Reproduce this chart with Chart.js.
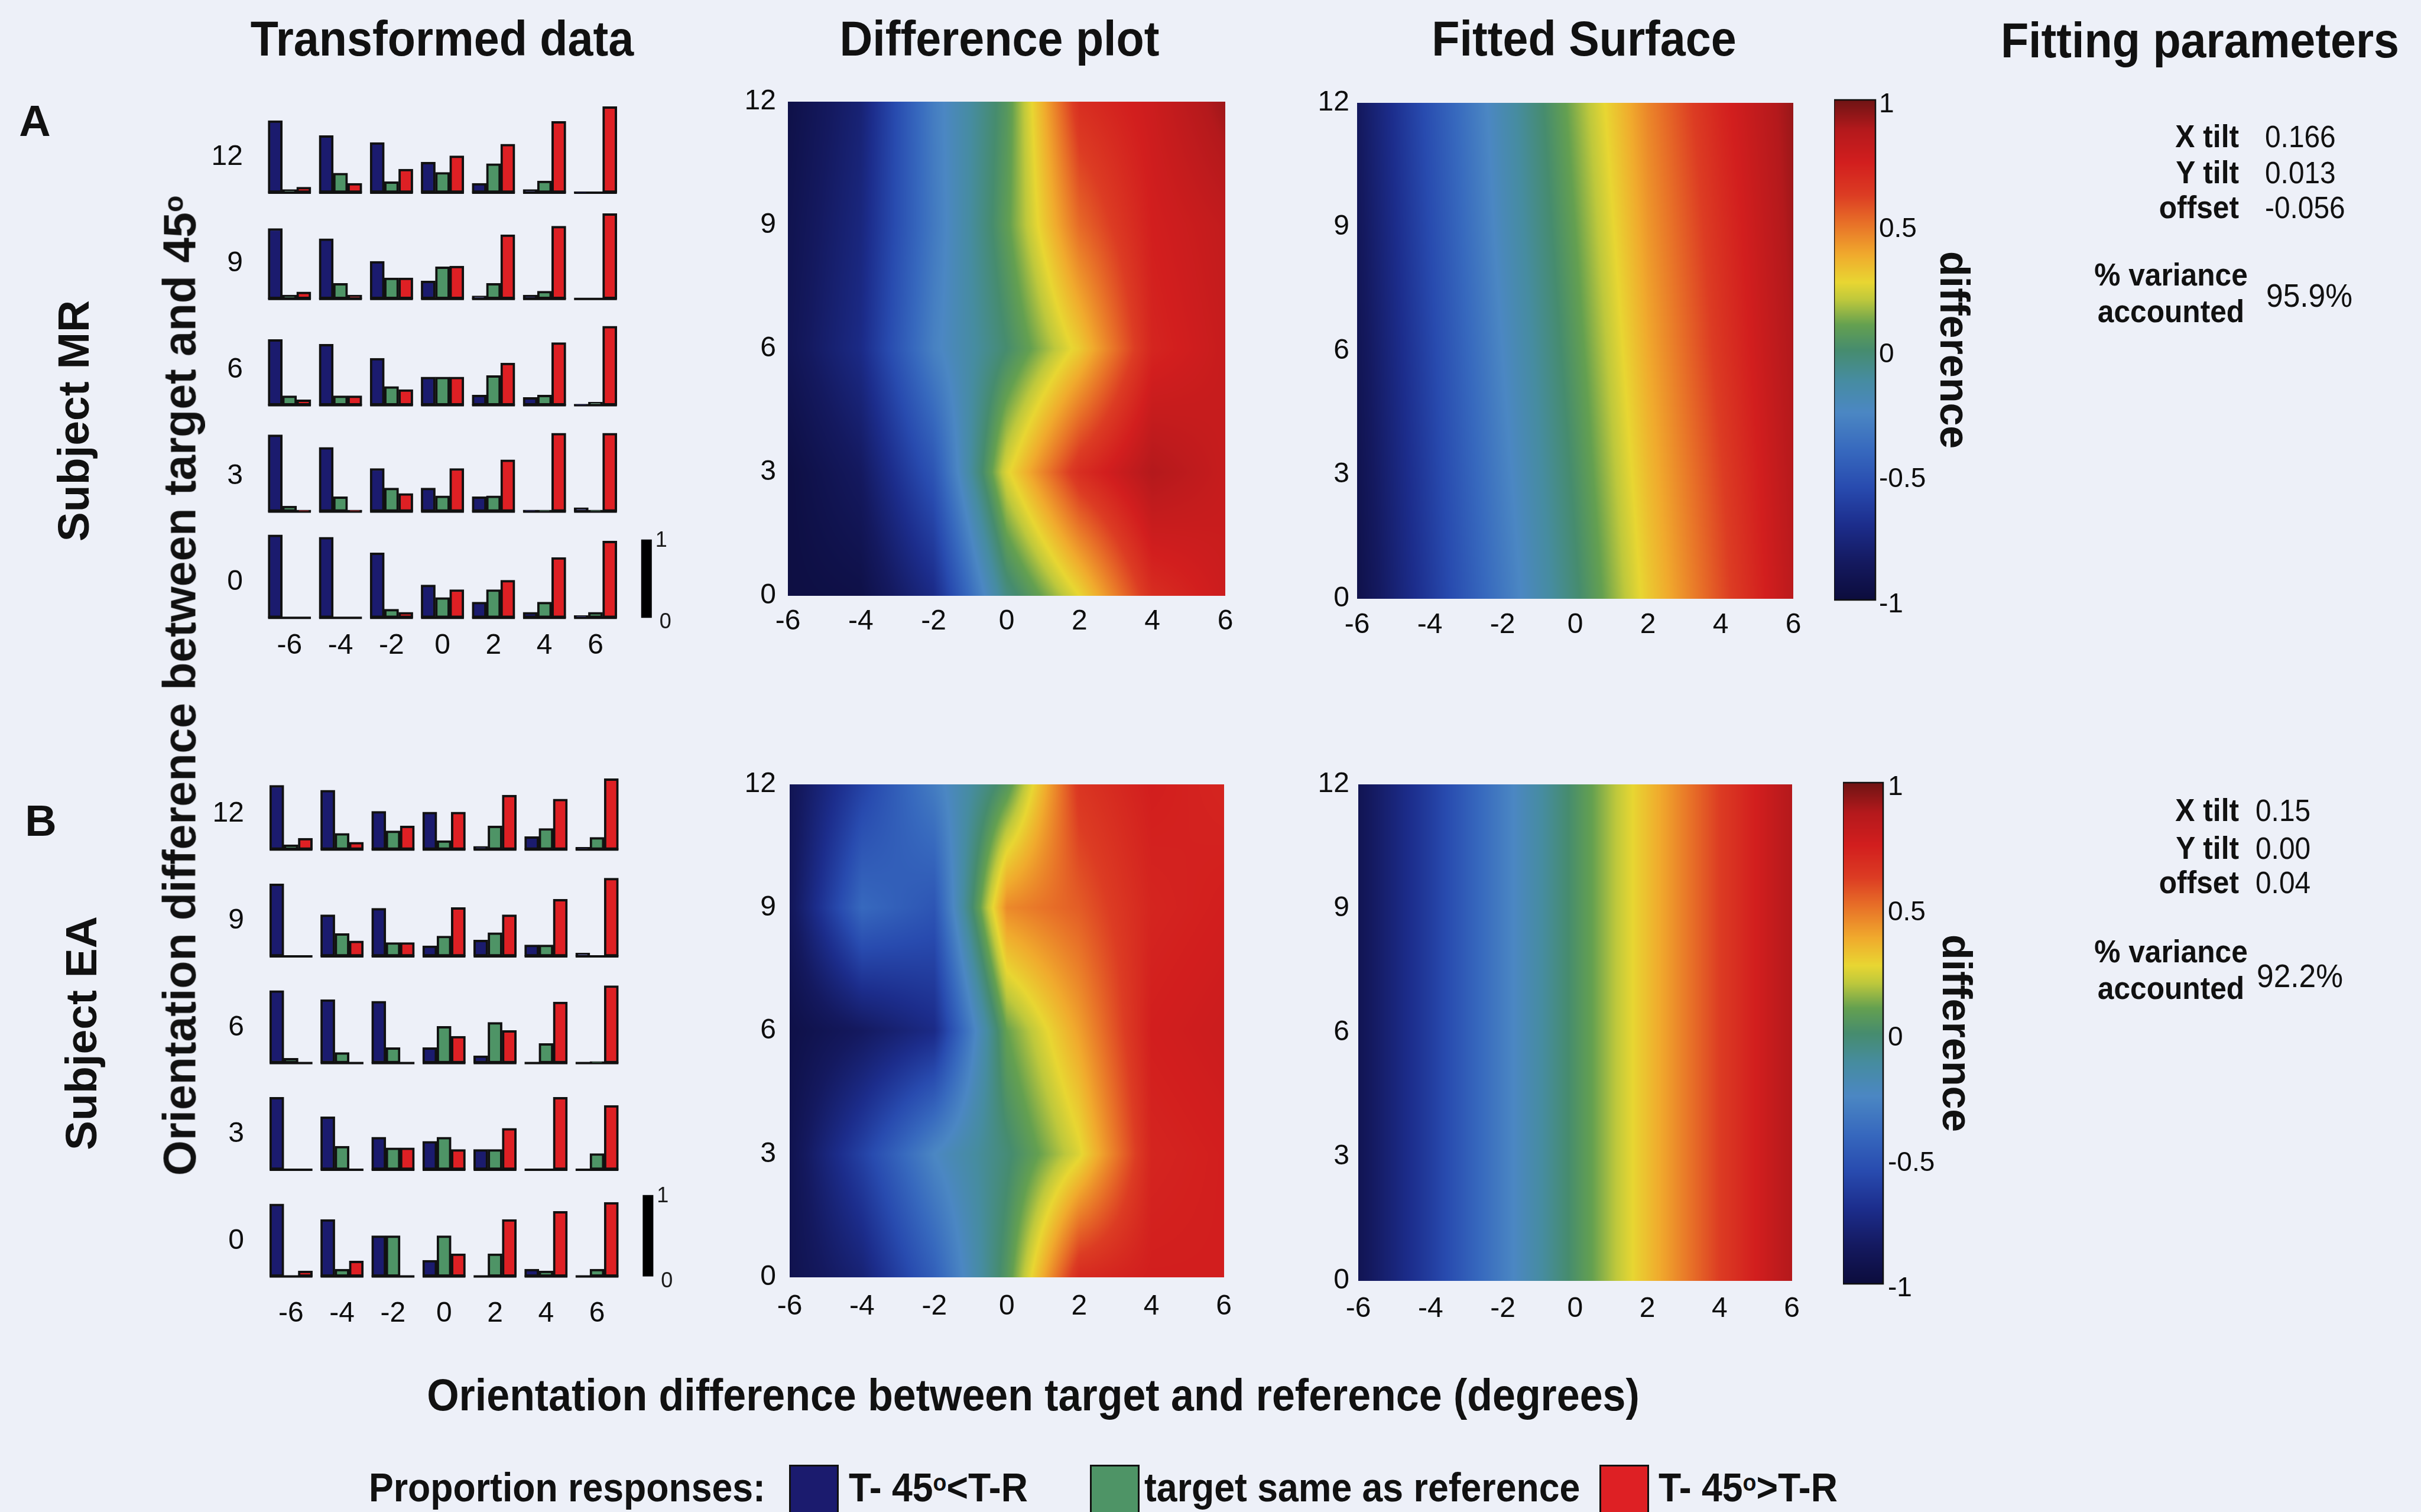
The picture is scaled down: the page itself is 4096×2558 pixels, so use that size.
<!DOCTYPE html>
<html>
<head>
<meta charset="utf-8">
<title>Transformed data, difference plot and fitted surface</title>
<script src="https://cdn.jsdelivr.net/npm/chart.js@4.4.1/dist/chart.umd.min.js"></script>
<style>
  html, body { margin: 0; padding: 0; }
  body { position: relative; width: 4096px; height: 2558px; overflow: hidden; background: #edf0f8;
         font-family: "Liberation Sans", Arial, Helvetica, sans-serif; color: #111; }
  canvas { position: absolute; }
  .txt { position: absolute; line-height: 1; white-space: nowrap; }
  .deg { position: relative; top: -0.45em; font-size: 0.6em; }
  .key { position: absolute; box-sizing: border-box; border: 3px solid #111; }
</style>
</head>
<body>
<script>
// ---- data ----
const colVals = [-6, -4, -2, 0, 2, 4, 6];   // target - reference (deg)
const rowVals = [0, 3, 6, 9, 12];           // target - 45 (deg), first row is the bottom one

// proportion of responses, subject MR (rows follow rowVals)
const mrBlue = [
  [1.06, 1.03, 0.83, 0.42, 0.20, 0.07, 0.03],
  [0.98, 0.82, 0.55, 0.30, 0.19, 0.02, 0.05],
  [0.84, 0.78, 0.60, 0.36, 0.13, 0.10, 0.01],
  [0.90, 0.77, 0.48, 0.23, 0.04, 0.05, 0.00],
  [0.92, 0.73, 0.64, 0.39, 0.12, 0.04, 0.01]
];
const mrGreen = [
  [0.00, 0.00, 0.11, 0.26, 0.36, 0.20, 0.07],
  [0.07, 0.19, 0.30, 0.20, 0.20, 0.02, 0.02],
  [0.12, 0.12, 0.24, 0.36, 0.38, 0.13, 0.04],
  [0.05, 0.20, 0.27, 0.41, 0.20, 0.10, 0.00],
  [0.04, 0.25, 0.14, 0.26, 0.37, 0.15, 0.00]
];
const mrRed = [
  [0.00, 0.00, 0.07, 0.36, 0.48, 0.77, 0.98],
  [0.02, 0.02, 0.23, 0.55, 0.66, 1.00, 1.00],
  [0.07, 0.12, 0.20, 0.36, 0.54, 0.80, 1.01],
  [0.09, 0.05, 0.27, 0.42, 0.82, 0.93, 1.09],
  [0.07, 0.12, 0.30, 0.47, 0.62, 0.91, 1.10]
];

// proportion of responses, subject EA
const eaBlue = [
  [0.89, 0.70, 0.50, 0.20, 0.00, 0.09, 0.00],
  [0.89, 0.65, 0.40, 0.35, 0.25, 0.00, 0.00],
  [0.89, 0.78, 0.76, 0.19, 0.09, 0.00, 0.00],
  [0.89, 0.51, 0.59, 0.13, 0.20, 0.14, 0.04],
  [0.79, 0.73, 0.47, 0.46, 0.04, 0.16, 0.03]
];
const eaGreen = [
  [0.00, 0.09, 0.50, 0.50, 0.28, 0.07, 0.09],
  [0.00, 0.29, 0.27, 0.40, 0.25, 0.00, 0.20],
  [0.06, 0.13, 0.19, 0.45, 0.50, 0.24, 0.02],
  [0.00, 0.28, 0.17, 0.25, 0.29, 0.14, 0.00],
  [0.06, 0.20, 0.23, 0.11, 0.29, 0.26, 0.15]
];
const eaRed = [
  [0.07, 0.19, 0.00, 0.28, 0.70, 0.80, 0.91],
  [0.00, 0.00, 0.27, 0.25, 0.51, 0.89, 0.79],
  [0.00, 0.00, 0.00, 0.33, 0.40, 0.75, 0.95],
  [0.00, 0.19, 0.17, 0.60, 0.51, 0.70, 0.96],
  [0.14, 0.09, 0.29, 0.46, 0.67, 0.62, 0.87]
];

// difference surfaces (rows follow rowVals, columns follow colVals)
const diffMR = [
  [-0.97, -0.95, -0.72, -0.05, 0.27, 0.68, 0.78],
  [-0.97, -0.85, -0.50, 0.25, 0.68, 0.88, 0.80],
  [-0.90, -0.72, -0.28, 0.00, 0.30, 0.72, 0.80],
  [-0.92, -0.75, -0.32, 0.08, 0.52, 0.75, 0.82],
  [-0.95, -0.78, -0.30, 0.05, 0.68, 0.78, 0.92]
];
const fitMR = [
  [-0.94, -0.64, -0.33, -0.02, 0.30, 0.58, 0.85],
  [-0.92, -0.61, -0.29, 0.02, 0.34, 0.61, 0.87],
  [-0.90, -0.58, -0.25, 0.06, 0.38, 0.65, 0.89],
  [-0.88, -0.55, -0.21, 0.10, 0.42, 0.68, 0.91],
  [-0.86, -0.52, -0.18, 0.14, 0.46, 0.72, 0.93]
];
const diffEA = [
  [-0.92, -0.78, -0.45, 0.05, 0.70, 0.75, 0.75],
  [-0.92, -0.60, -0.25, -0.02, 0.25, 0.72, 0.75],
  [-0.95, -0.85, -0.72, 0.10, 0.40, 0.75, 0.78],
  [-0.88, -0.40, -0.50, 0.45, 0.55, 0.72, 0.75],
  [-0.90, -0.60, -0.30, 0.05, 0.65, 0.75, 0.72]
];
const fitEA = [
  [-0.90, -0.62, -0.30, 0.03, 0.33, 0.62, 0.88],
  [-0.90, -0.62, -0.30, 0.03, 0.33, 0.62, 0.88],
  [-0.90, -0.62, -0.30, 0.03, 0.33, 0.62, 0.88],
  [-0.90, -0.62, -0.30, 0.03, 0.33, 0.62, 0.88],
  [-0.90, -0.62, -0.30, 0.03, 0.33, 0.62, 0.88]
];

const cbTicks = [-1, -0.5, 0, 0.5, 1];
const scaleBarTicks = [0, 1];

const paramsMR = [['X tilt', '0.166'], ['Y tilt', '0.013'], ['offset', '-0.056']];
const varianceMR = '95.9%';
const paramsEA = [['X tilt', '0.15'], ['Y tilt', '0.00'], ['offset', '0.04']];
const varianceEA = '92.2%';

const legendLabels = ['T- 45<span class="deg">o</span>&lt;T-R', 'target same as reference', 'T- 45<span class="deg">o</span>&gt;T-R'];

// colour ramp as it looks on the printed colour bar
const rampVals = [-1, -0.85, -0.7, -0.55, -0.4, -0.25, -0.12, 0, 0.1, 0.2, 0.27, 0.38, 0.5, 0.62, 0.75, 0.88, 1];
const rampRGB = [[12,12,60],[20,25,95],[28,45,140],[40,75,175],[55,105,190],[75,135,195],[70,140,160],[70,140,110],
                 [100,160,80],[190,200,60],[232,214,50],[240,170,45],[232,115,40],[220,60,35],[210,30,30],[180,25,28],[110,20,20]];
const barColors = ['rgb(27,27,110)', 'rgb(78,148,102)', 'rgb(222,32,36)'];

const FONT = '"Liberation Sans", Arial, Helvetica, sans-serif';
Chart.defaults.font.family = FONT;
Chart.defaults.color = '#0d0d0d';
Chart.defaults.animation = false;
Chart.defaults.plugins.legend.display = false;
Chart.defaults.plugins.tooltip.enabled = false;

// ---- helpers ----
function addCanvas(x, y, w, h) {
  const c = document.createElement('canvas');
  c.width = Math.round(w);
  c.height = Math.round(h);
  c.style.left = Math.round(x) + 'px';
  c.style.top = Math.round(y) + 'px';
  document.body.appendChild(c);
  return c;
}

function addText(html, x, base, size, align, bold, sx) {
  const d = document.createElement('div');
  d.className = 'txt';
  d.innerHTML = html;
  d.style.fontSize = size + 'px';
  d.style.fontWeight = bold ? 'bold' : 'normal';
  d.style.top = (base - 0.8465 * size) + 'px';
  const s = sx || 1;
  if (align === 'center') {
    d.style.left = x + 'px';
    d.style.transform = 'translateX(-50%) scaleX(' + s + ')';
  } else if (align === 'right') {
    d.style.right = (4096 - x) + 'px';
    d.style.transformOrigin = 'right top';
    d.style.transform = 'scaleX(' + s + ')';
  } else {
    d.style.left = x + 'px';
    d.style.transformOrigin = 'left top';
    d.style.transform = 'scaleX(' + s + ')';
  }
  document.body.appendChild(d);
}

function addVText(html, cx, cy, size) {
  const d = document.createElement('div');
  d.className = 'txt';
  d.innerHTML = html;
  d.style.fontSize = size + 'px';
  d.style.fontWeight = 'bold';
  d.style.left = cx + 'px';
  d.style.top = cy + 'px';
  d.style.transform = 'translate(-50%, -50%) rotate(-90deg)';
  document.body.appendChild(d);
}

function rampColor(v) {
  if (v <= rampVals[0]) return rampRGB[0];
  for (let i = 1; i < rampVals.length; i++) {
    if (v <= rampVals[i]) {
      const t = (v - rampVals[i - 1]) / (rampVals[i] - rampVals[i - 1]);
      const a = rampRGB[i - 1], b = rampRGB[i];
      return [a[0] + (b[0] - a[0]) * t, a[1] + (b[1] - a[1]) * t, a[2] + (b[2] - a[2]) * t];
    }
  }
  return rampRGB[rampRGB.length - 1];
}

function bracket(nodes, v) {
  let i = 0;
  while (i < nodes.length - 2 && v > nodes[i + 1]) i++;
  const t = (v - nodes[i]) / (nodes[i + 1] - nodes[i]);
  return [i, Math.min(1, Math.max(0, t))];
}

const fixedTicks = vals => scale => { scale.ticks = vals.map(v => ({value: v})); };

// paints the interpolated surface from the dataset points, using the chart scales
const surfacePlugin = {
  id: 'surface',
  beforeDatasetsDraw(chart) {
    const pts = chart.data.datasets[0].data;
    const grid = rowVals.map(() => colVals.map(() => 0));
    pts.forEach(p => { grid[rowVals.indexOf(p.y)][colVals.indexOf(p.x)] = p.v; });
    const {left, top, right, bottom} = chart.chartArea;
    const xs = chart.scales.x, ys = chart.scales.y;
    const x0 = Math.round(left), y0 = Math.round(top);
    const w = Math.round(right) - x0, h = Math.round(bottom) - y0;
    const img = chart.ctx.createImageData(w, h);
    const cols = [];
    for (let px = 0; px < w; px++) cols.push(bracket(colVals, xs.getValueForPixel(x0 + px + 0.5)));
    for (let py = 0; py < h; py++) {
      const [i, ty] = bracket(rowVals, ys.getValueForPixel(y0 + py + 0.5));
      for (let px = 0; px < w; px++) {
        const [j, tx] = cols[px];
        const v = (grid[i][j] * (1 - tx) + grid[i][j + 1] * tx) * (1 - ty) +
                  (grid[i + 1][j] * (1 - tx) + grid[i + 1][j + 1] * tx) * ty;
        const c = rampColor(v);
        const k = (py * w + px) * 4;
        img.data[k] = c[0]; img.data[k + 1] = c[1]; img.data[k + 2] = c[2]; img.data[k + 3] = 255;
      }
    }
    chart.ctx.putImageData(img, x0, y0);
  }
};

const colorbarPlugin = {
  id: 'colorbar',
  beforeDatasetsDraw(chart) {
    const {left, top, right, bottom} = chart.chartArea;
    const ys = chart.scales.y, ctx = chart.ctx;
    for (let py = Math.round(top); py < Math.round(bottom); py++) {
      const c = rampColor(ys.getValueForPixel(py + 0.5));
      ctx.fillStyle = 'rgb(' + c.map(Math.round).join(',') + ')';
      ctx.fillRect(left, py, right - left, 1);
    }
    ctx.strokeStyle = '#111';
    ctx.lineWidth = 2.5;
    ctx.strokeRect(left, top, right - left, bottom - top);
  }
};

function scaleBarLabels(g) {
  return {
    id: 'scaleBarLabels',
    afterDatasetsDraw(chart) {
      const ctx = chart.ctx, xs = chart.scales.x, ys = chart.scales.y;
      ctx.save();
      ctx.font = '36px ' + FONT;
      ctx.fillStyle = '#1b1b1b';
      ctx.textBaseline = 'middle';
      scaleBarTicks.forEach(t => {
        const yp = ys.getPixelForValue(-1 + t * g.span);
        ctx.fillText(String(t), xs.getPixelForValue(8) + (t ? 15 : 22), yp + (t ? 2 : 8));
      });
      ctx.restore();
    }
  };
}

// ---- small bar charts (transformed data) ----
function barGrid(g, blue, green, red) {
  const axW = 130, axH = 90, padT = 30, padR = 60;
  const cv = addCanvas(g.left - axW, g.top - padT, g.right - g.left + axW + padR, g.bottom - g.top + padT + axH);
  const xMin = -6 - (g.x0 - g.left) / g.px, xMax = -6 + (g.right - g.x0) / g.px;
  const yMin = -1 - (g.bottom - g.y0) / g.py, yMax = -1 + (g.y0 - g.top) / g.py;
  const offsets = [-0.56, 0, 0.56];
  const datasets = [blue, green, red].map((vals, s) => ({
    type: 'bar',
    data: rowVals.flatMap((r, i) => colVals.map((c, j) => ({x: c + offsets[s], y: [r - 1, r - 1 + vals[i][j] * g.span]}))),
    backgroundColor: barColors[s],
    borderColor: '#111',
    borderWidth: 4,
    borderSkipped: false,
    grouped: false,
    barPercentage: 1,
    categoryPercentage: 1
  }));
  const base = [];
  rowVals.forEach(r => colVals.forEach(c => {
    base.push({x: c - 0.84, y: r - 1}, {x: c + 0.84, y: r - 1}, {x: c + 0.84, y: null});
  }));
  datasets.push({type: 'line', data: base, borderColor: '#111', borderWidth: 4, pointRadius: 0, spanGaps: false});
  datasets.push({type: 'line', data: scaleBarTicks.map(t => ({x: 8, y: -1 + t * g.span})),
                 borderColor: '#000', borderWidth: 18, borderCapStyle: 'butt', pointRadius: 0});
  new Chart(cv, {
    type: 'bar',
    data: {datasets},
    options: {
      responsive: false,
      devicePixelRatio: 1,
      events: [],
      layout: {padding: {top: padT, right: padR, left: 0, bottom: 0}},
      scales: {
        x: {type: 'linear', offset: false, min: xMin, max: xMax, grid: {display: false, drawTicks: false, offset: false},
            border: {display: false}, afterBuildTicks: fixedTicks(colVals), afterFit: s => { s.height = axH; },
            ticks: {padding: g.xPad, autoSkip: false, font: {size: 48}, callback: v => String(v)}},
        y: {type: 'linear', min: yMin, max: yMax, grid: {display: false, drawTicks: false}, border: {display: false},
            afterBuildTicks: fixedTicks(rowVals), afterFit: s => { s.width = axW; },
            ticks: {padding: g.yPad, autoSkip: false, font: {size: 48}, callback: v => String(v)}}
      }
    },
    plugins: [scaleBarLabels(g)]
  });
}

// ---- interpolated surfaces ----
function surface(b, grid) {
  const axW = 110, axH = 90, padT = 40, padR = 30;
  const cv = addCanvas(b.left - axW, b.top - padT, b.right - b.left + axW + padR, b.bottom - b.top + padT + axH);
  const pts = rowVals.flatMap((y, i) => colVals.map((x, j) => ({x, y, v: grid[i][j]})));
  new Chart(cv, {
    type: 'scatter',
    data: {datasets: [{data: pts, pointRadius: 0}]},
    options: {
      responsive: false,
      devicePixelRatio: 1,
      events: [],
      layout: {padding: {top: padT, right: padR, left: 0, bottom: 0}},
      scales: {
        x: {type: 'linear', min: -6, max: 6, grid: {display: false, drawTicks: false}, border: {display: false},
            afterBuildTicks: fixedTicks(colVals), afterFit: s => { s.height = axH; },
            ticks: {padding: b.xPad, autoSkip: false, font: {size: 48}, callback: v => String(v)}},
        y: {type: 'linear', min: 0, max: 12, grid: {display: false, drawTicks: false}, border: {display: false},
            afterBuildTicks: fixedTicks(rowVals), afterFit: s => { s.width = axW; },
            ticks: {padding: b.yPad, autoSkip: false, font: {size: 48}, callback: v => String(v)}}
      }
    },
    plugins: [surfacePlugin]
  });
}

function colorbar(b) {
  const padT = 40, padB = 40;
  const axW = Math.round(b.titleX + 42 - b.right);
  const cv = addCanvas(b.left, b.top - padT, b.right - b.left + axW, b.bottom - b.top + padT + padB);
  new Chart(cv, {
    type: 'scatter',
    data: {datasets: [{data: cbTicks.map(v => ({x: 0.5, y: v})), pointRadius: 0}]},
    options: {
      responsive: false,
      devicePixelRatio: 1,
      events: [],
      layout: {padding: {top: padT, bottom: padB, left: 0, right: 0}},
      scales: {
        x: {display: false, min: 0, max: 1},
        y: {position: 'right', min: -1, max: 1, grid: {display: false, drawTicks: false}, border: {display: false},
            afterBuildTicks: fixedTicks(cbTicks), afterFit: s => { s.width = axW; },
            ticks: {padding: b.pad, labelOffset: 8, font: {size: 46}, callback: v => String(v)},
            title: {display: true, text: 'difference', padding: 0, color: '#111', font: {size: 70, weight: 'bold'}}}
      }
    },
    plugins: [colorbarPlugin]
  });
}

// ---- layout (pixels) ----
barGrid({left: 434, right: 1154, top: 148, bottom: 1057, x0: 489.8, y0: 1044.9, px: 43.14, py: 61.41, span: 2.21, xPad: 7, yPad: 23},
        mrBlue, mrGreen, mrRed);
barGrid({left: 436, right: 1156, top: 1259, bottom: 2172, x0: 492.4, y0: 2159.3, px: 43.14, py: 61.66, span: 2.29, xPad: 22, yPad: 23},
        eaBlue, eaGreen, eaRed);

surface({left: 1333, top: 163, right: 2073, bottom: 1008, xPad: 15, yPad: 20}, diffMR);
surface({left: 1336, top: 1315, right: 2075, bottom: 2161, xPad: 21, yPad: 23}, diffEA);
surface({left: 2296, top: 172, right: 3034, bottom: 1013, xPad: 16, yPad: 13}, fitMR);
surface({left: 2298, top: 1323, right: 3034, bottom: 2167, xPad: 19, yPad: 15}, fitEA);

colorbar({left: 3103, top: 169, right: 3173, bottom: 1015, pad: 6, titleX: 3302});
colorbar({left: 3118, top: 1324, right: 3186, bottom: 2172, pad: 8, titleX: 3306});

// ---- titles and labels ----
addText('Transformed data', 748, 94, 84, 'center', true, 0.92);
addText('Difference plot', 1691, 94, 84, 'center', true, 0.92);
addText('Fitted Surface', 2680, 94, 84, 'center', true, 0.92);
addText('Fitting parameters', 3722, 97, 84, 'center', true, 0.92);

addText('A', 59, 231, 74, 'center', true);
addText('B', 69, 1415, 74, 'center', true);
addVText('Subject MR', 124, 712, 75);
addVText('Subject EA', 137, 1748, 75);
addVText('Orientation difference between target and 45<span class="deg">o</span>', 304, 1160, 77);
addText('Orientation difference between target and reference (degrees)', 1748, 2386, 76, 'center', true, 0.92);

function paramBlock(params, variance, valueX, bases) {
  params.forEach((p, i) => {
    addText(p[0], 3788, bases[i], 54, 'right', true, 0.92);
    addText(p[1], valueX, bases[i], 52, 'left', false, 0.92);
  });
  addText('% variance', 3673, bases[3], 54, 'center', true, 0.92);
  addText('accounted', 3673, bases[4], 54, 'center', true, 0.92);
  addText(variance, valueX + 2, bases[5], 56, 'left', false, 0.92);
}
paramBlock(paramsMR, varianceMR, 3832, [249, 310, 369, 483, 545, 519]);
paramBlock(paramsEA, varianceEA, 3816, [1389, 1453, 1511, 1628, 1690, 1670]);

// legend
addText('Proportion responses:', 624, 2540, 68, 'left', true, 0.92);
const keyBoxes = [1335, 1844, 2706];
const keyText = [1436, 1936, 2806];
legendLabels.forEach((lab, i) => {
  const k = document.createElement('div');
  k.className = 'key';
  k.style.left = keyBoxes[i] + 'px';
  k.style.top = '2478px';
  k.style.width = '84px';
  k.style.height = '84px';
  k.style.background = barColors[i];
  document.body.appendChild(k);
  addText(lab, keyText[i], 2540, 68, 'left', true, 0.92);
});
</script>
</body>
</html>
